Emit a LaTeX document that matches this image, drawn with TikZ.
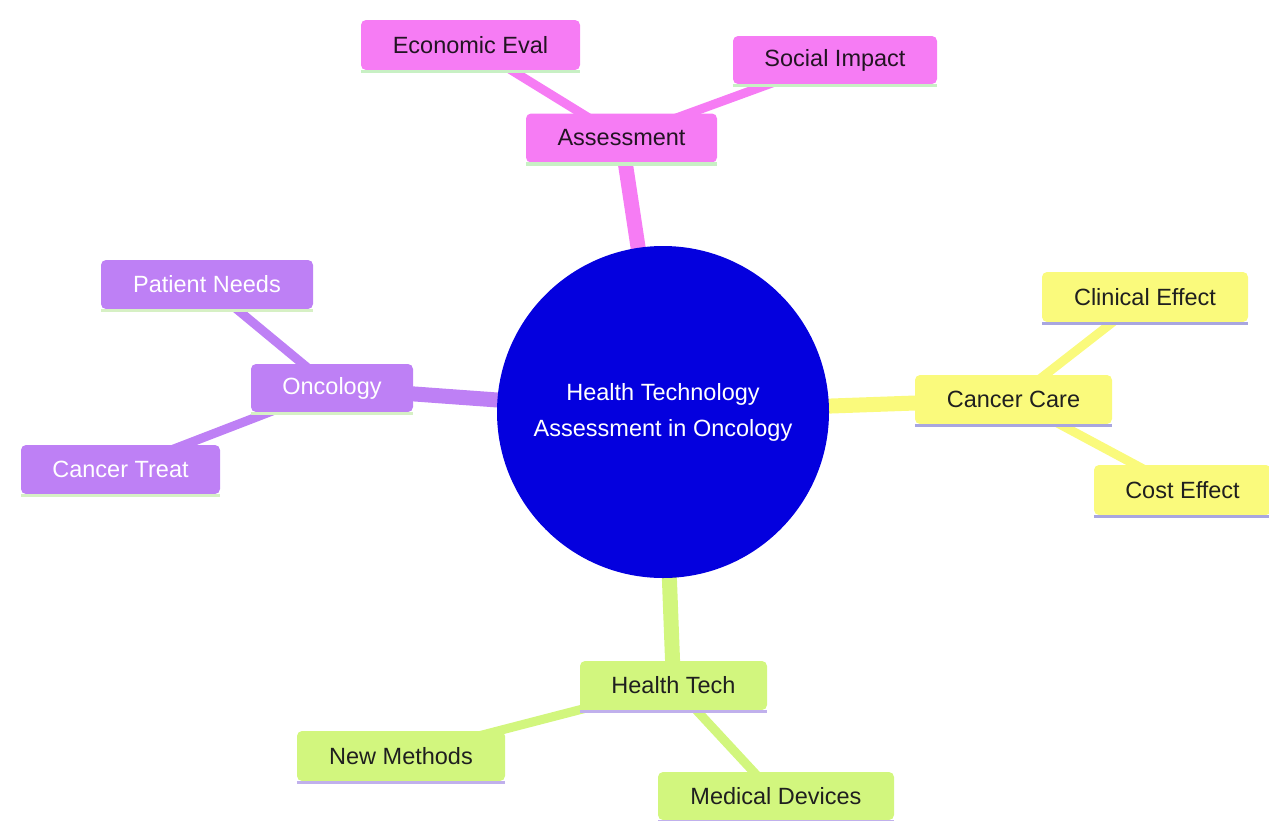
\documentclass[tikz,border=0pt]{standalone}
\usepackage{fontspec}
\setmainfont{Liberation Sans}
\usetikzlibrary{backgrounds}
\definecolor{rootblue}{RGB}{4,0,222}
\definecolor{pinkfill}{RGB}{246,124,244}
\definecolor{purplefill}{RGB}{190,128,245}
\definecolor{yellowfill}{RGB}{250,250,124}
\definecolor{greenfill}{RGB}{210,246,126}
\definecolor{pinkline}{RGB}{200,240,196}
\definecolor{purpleline}{RGB}{214,240,196}
\definecolor{yellowline}{RGB}{168,166,224}
\definecolor{greenline}{RGB}{192,176,236}
\definecolor{darktext}{RGB}{34,20,34}
\begin{document}
\begin{tikzpicture}[x=1pt,y=-1pt,
  box/.style={rectangle, rounded corners=5pt, minimum height=49pt, inner sep=0pt,
    font=\fontsize{23.5}{28}\selectfont},
  pinkbox/.style={box, fill=pinkfill, text=darktext},
  purplebox/.style={box, fill=purplefill, text=white},
  yellowbox/.style={box, fill=yellowfill, text=black!88},
  greenbox/.style={box, fill=greenfill, text=black!88},
  mainedge/.style={line width=15pt},
  subedge/.style={line width=9pt},
  underline/.style={line width=3.5pt}
]
\useasboundingbox (0,0) rectangle (1269,820);

% root
\node[circle, fill=rootblue, minimum size=332pt, inner sep=0pt, text=white, align=center,
  font=\fontsize{23.5}{36}\selectfont] (root) at (663,412)
  {Health Technology\\Assessment in Oncology};

% pink section
\node[pinkbox, minimum width=191pt] (ass) at (621.5,138) {Assessment};
\node[pinkbox, minimum width=219pt, minimum height=50pt] (econ) at (470.5,45) {Economic Eval};
\node[pinkbox, minimum width=204pt, minimum height=48pt] (soc) at (835,60) {Social Impact};

% purple section
\node[purplebox, minimum width=162pt, minimum height=48pt] (onc) at (332,388) {Oncology};
\node[purplebox, minimum width=212pt] (pat) at (207,284.5) {Patient Needs};
\node[purplebox, minimum width=199pt] (treat) at (120.5,469.5) {Cancer Treat};

% yellow section
\node[yellowbox, minimum width=197pt] (care) at (1013.5,399.5) {Cancer Care};
\node[yellowbox, minimum width=206pt, minimum height=50pt] (clin) at (1145,297) {Clinical Effect};
\node[yellowbox, minimum width=177pt, minimum height=50pt] (cost) at (1182.5,490) {Cost Effect};

% green section
\node[greenbox, minimum width=187pt] (tech) at (673.5,685.5) {Health Tech};
\node[greenbox, minimum width=208pt, minimum height=50pt] (meth) at (401,756) {New Methods};
\node[greenbox, minimum width=236pt, minimum height=48pt] (dev) at (776,796) {Medical Devices};

% underlines
\foreach \n/\c in {ass/pinkline, econ/pinkline, soc/pinkline,
                   onc/purpleline, pat/purpleline, treat/purpleline,
                   care/yellowline, clin/yellowline, cost/yellowline,
                   tech/greenline, meth/greenline, dev/greenline}{
  \draw[underline, \c] ([yshift=-1.5pt]\n.south west) -- ([yshift=-1.5pt]\n.south east);
}

% edges
\begin{scope}[on background layer]
  \draw[mainedge, pinkfill] (root.center) -- (ass.center);
  \draw[subedge, pinkfill] (ass.center) -- (econ.center);
  \draw[subedge, pinkfill] (ass.center) -- (soc.center);
  \draw[mainedge, purplefill] (root.center) -- (onc.center);
  \draw[subedge, purplefill] (onc.center) -- (pat.center);
  \draw[subedge, purplefill] (onc.center) -- (treat.center);
  \draw[mainedge, yellowfill] (root.center) -- (care.center);
  \draw[subedge, yellowfill] (care.center) -- (clin.center);
  \draw[subedge, yellowfill] (care.center) -- (cost.center);
  \draw[mainedge, greenfill] (root.center) -- (tech.center);
  \draw[subedge, greenfill] (tech.center) -- (meth.center);
  \draw[subedge, greenfill] (tech.center) -- (dev.center);
\end{scope}
\end{tikzpicture}
\end{document}
